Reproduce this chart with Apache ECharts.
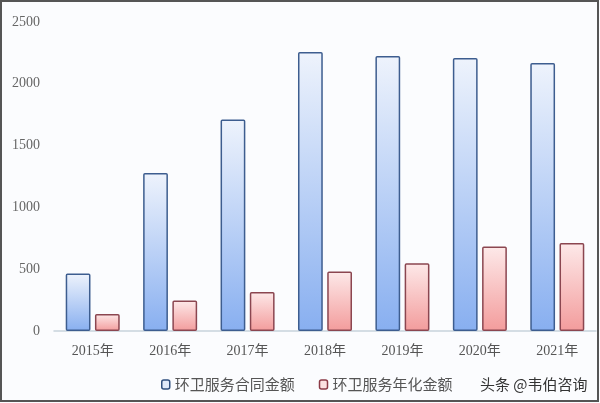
<!DOCTYPE html>
<html><head><meta charset="utf-8">
<script src="https://cdn.jsdelivr.net/npm/echarts@6/dist/echarts.min.js"></script>
<style>html,body{margin:0;padding:0;background:#fff}#c{width:600px;height:403px}</style>
</head><body><div id="c"></div>
<script>
const categories = ['2015年','2016年','2017年','2018年','2019年','2020年','2021年'];
const contractAmount = [465, 1279, 1711, 2257, 2225, 2208, 2168];
const annualAmount = [138, 246, 316, 481, 549, 684, 711];
const seriesNames = ['环卫服务合同金额', '环卫服务年化金额'];
const yTicks = [0, 500, 1000, 1500, 2000, 2500];

const chart = echarts.init(document.getElementById('c'));
const serif = '"Liberation Serif","DejaVu Serif","Noto Sans CJK SC",serif';
chart.setOption({
  backgroundColor: '#fbfcfe',
  animation: false,
  grid: { left: 54, right: 4, top: 22, bottom: 72 },
  legend: {
    bottom: 6, left: 156, itemWidth: 8, itemHeight: 9, itemGap: 24,
    textStyle: { color: '#555', fontSize: 15, fontFamily: '"Noto Sans CJK SC"' },
    data: [
      { name: seriesNames[0], itemStyle: { color: '#dfe9fa', borderColor: '#2f4f7f', borderWidth: 1.5 } },
      { name: seriesNames[1], itemStyle: { color: '#fbe0e0', borderColor: '#8b3a46', borderWidth: 1.5 } }
    ]
  },
  xAxis: {
    type: 'category', data: categories,
    axisLine: { lineStyle: { color: '#c8d2dc', width: 1.5 } },
    axisTick: { show: false },
    axisLabel: { color: '#555', fontSize: 14, fontFamily: serif, margin: 13 }
  },
  yAxis: {
    type: 'value', min: yTicks[0], max: yTicks[yTicks.length - 1], interval: 500,
    axisLine: { show: false }, axisTick: { show: false }, splitLine: { show: false },
    axisLabel: { color: '#666', fontSize: 14, fontFamily: serif, margin: 14, formatter: v => String(v) }
  },
  series: [
    {
      name: seriesNames[0], type: 'bar', data: contractAmount, barWidth: '32%', barGap: '18%',
      itemStyle: {
        borderColor: '#3d5d8f', borderWidth: 1.5, borderRadius: 1,
        color: new echarts.graphic.LinearGradient(0, 0, 0, 1, [
          { offset: 0, color: '#eef3fc' }, { offset: 1, color: '#88aff0' }
        ])
      }
    },
    {
      name: seriesNames[1], type: 'bar', data: annualAmount, barWidth: '32%',
      itemStyle: {
        borderColor: '#8b4650', borderWidth: 1.5, borderRadius: 1,
        color: new echarts.graphic.LinearGradient(0, 0, 0, 1, [
          { offset: 0, color: '#fde9e9' }, { offset: 1, color: '#f39c9c' }
        ])
      }
    }
  ],
  graphic: [
    { type: 'text', left: 480, top: 377, style: { text: '头条 @韦伯咨询', fill: '#333', font: '15px "Noto Sans CJK SC"' } },
    { type: 'rect', shape: { x: 1, y: 1, width: 597, height: 400 }, style: { fill: 'none', stroke: '#555', lineWidth: 2 } }
  ]
});
</script></body></html>
